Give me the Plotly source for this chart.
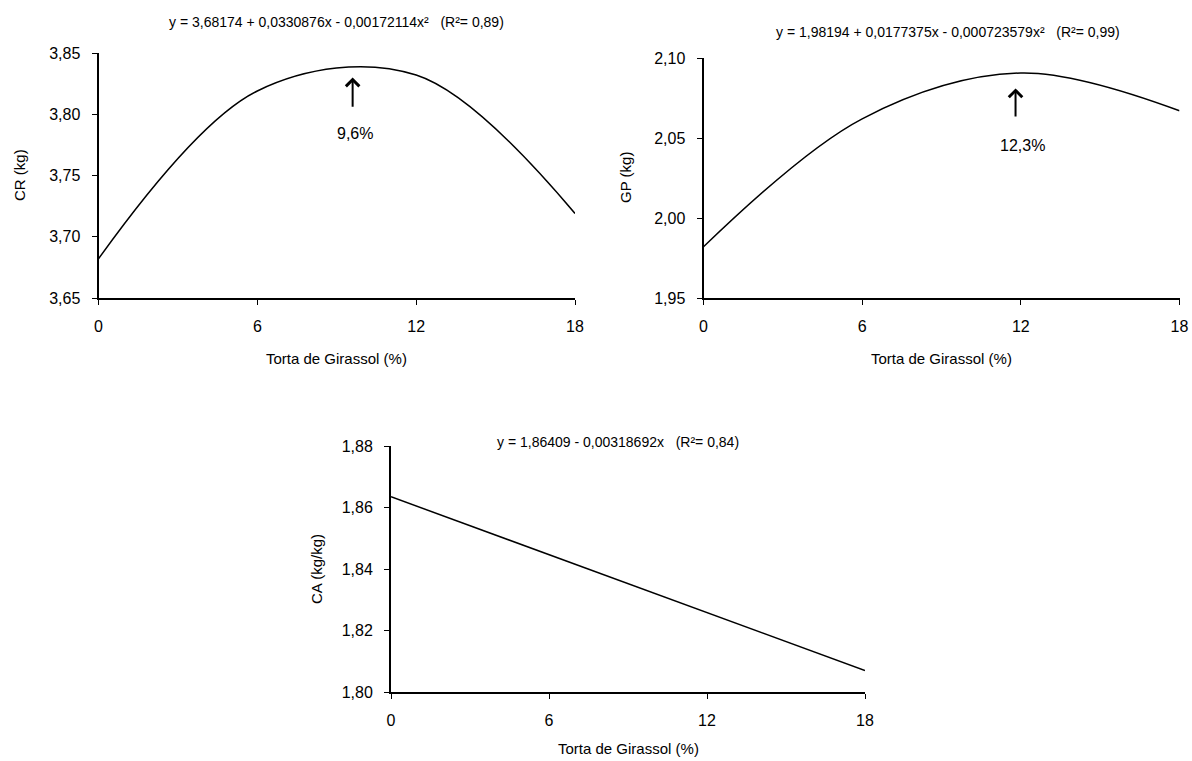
import plotly.graph_objects as go

# ---------------- data ----------------
torta_cr = [0, 6, 12, 18]
cr_kg = [3.682, 3.819, 3.832, 3.719]

torta_gp = [0, 6, 12, 18]
gp_kg = [1.982, 2.062, 2.0906, 2.067]

torta_ca = [0, 18]
ca_kgkg = [1.8635, 1.807]

x_ticks = [0, 6, 12, 18]
x_tick_labels = ["0", "6", "12", "18"]
cr_ticks = [3.65, 3.70, 3.75, 3.80, 3.85]
cr_tick_labels = ["3,65", "3,70", "3,75", "3,80", "3,85"]
gp_ticks = [1.95, 2.00, 2.05, 2.10]
gp_tick_labels = ["1,95", "2,00", "2,05", "2,10"]
ca_ticks = [1.80, 1.82, 1.84, 1.86, 1.88]
ca_tick_labels = ["1,80", "1,82", "1,84", "1,86", "1,88"]

eq_cr = "y = 3,68174 + 0,0330876x - 0,00172114x²   (R²= 0,89)"
eq_gp = "y = 1,98194 + 0,0177375x - 0,000723579x²   (R²= 0,99)"
eq_ca = "y = 1,86409 - 0,00318692x   (R²= 0,84)"
x_title = "Torta de Girassol (%)"

W, H = 1192, 761
FONT = "Liberation Sans Narrow, Liberation Sans, Arial, sans-serif"


def px(x):
    return x / W


def py(y):
    return 1 - y / H


fig = go.Figure()
line = dict(color="black", width=1.5)
fig.add_trace(go.Scatter(x=torta_cr, y=cr_kg, mode="lines",
                         line=dict(shape="spline", smoothing=1.0, **line),
                         xaxis="x", yaxis="y", showlegend=False, hoverinfo="skip"))
fig.add_trace(go.Scatter(x=torta_gp, y=gp_kg, mode="lines",
                         line=dict(shape="spline", smoothing=1.0, **line),
                         xaxis="x2", yaxis="y2", showlegend=False, hoverinfo="skip"))
fig.add_trace(go.Scatter(x=torta_ca, y=ca_kgkg, mode="lines", line=line,
                         xaxis="x3", yaxis="y3", showlegend=False, hoverinfo="skip"))

tickfont = dict(family=FONT, size=16, color="black")


def xax(domain, anchor):
    return dict(domain=domain, anchor=anchor, range=[0, 18], tickvals=x_ticks, ticktext=x_tick_labels,
                showline=True, linecolor="black", linewidth=2, ticks="outside", ticklen=5,
                tickwidth=1, tickcolor="black", showgrid=False, zeroline=False, tickfont=tickfont,
                ticklabelstandoff=8, automargin=False, fixedrange=True)


def yax(domain, anchor, rng, vals, labels):
    return dict(domain=domain, anchor=anchor, range=rng, tickvals=vals, ticktext=labels,
                showline=True, linecolor="black", linewidth=2, ticks="outside", ticklen=5,
                tickwidth=1, tickcolor="black", showgrid=False, zeroline=False, tickfont=tickfont,
                ticklabelstandoff=8, automargin=False, fixedrange=True)


fig.update_layout(
    width=W, height=H, margin=dict(l=0, r=0, t=0, b=0, autoexpand=False),
    paper_bgcolor="white", plot_bgcolor="white",
    font=dict(family=FONT, color="black"),
    xaxis=xax([px(98.5), px(575)], "y"),
    yaxis=yax([py(298), py(53)], "x", [3.65, 3.85], cr_ticks, cr_tick_labels),
    xaxis2=xax([px(703.5), px(1179.5)], "y2"),
    yaxis2=yax([py(298), py(58)], "x2", [1.95, 2.10], gp_ticks, gp_tick_labels),
    xaxis3=xax([px(391), px(865)], "y3"),
    yaxis3=yax([py(692), py(446)], "x3", [1.80, 1.88], ca_ticks, ca_tick_labels),
)

ann = []


def label(text, cx, cy, size, angle=0):
    ann.append(dict(text=text, x=px(cx), y=py(cy), xref="paper", yref="paper", showarrow=False,
                    xanchor="center", yanchor="middle", textangle=angle, font=dict(size=size)))


# equations
label(eq_cr, 336, 22, 14)
label(eq_gp, 948, 32, 14)
label(eq_ca, 618, 442, 14)
# x titles
for cx, cy in [(336, 358), (941, 358), (628, 748)]:
    label(x_title, cx, cy, 15)
# y titles
for t, cx, cy in [("CR (kg)", 20, 175), ("GP (kg)", 625, 178), ("CA (kg/kg)", 316, 569)]:
    label(t, cx, cy, 15, -90)

# arrows
ann.append(dict(x=9.6, y=3.830, ax=9.6, ay=3.805, xref="x", yref="y", axref="x", ayref="y",
                showarrow=True, arrowhead=4, arrowsize=1.3, arrowwidth=2, arrowcolor="black", text=""))
ann.append(dict(text="9,6%", x=9.7, y=3.784, xref="x", yref="y", showarrow=False,
                xanchor="center", yanchor="middle", font=dict(size=16)))
ann.append(dict(x=11.8, y=2.081, ax=11.8, ay=2.0625, xref="x2", yref="y2", axref="x2", ayref="y2",
                showarrow=True, arrowhead=4, arrowsize=1.3, arrowwidth=2, arrowcolor="black", text=""))
ann.append(dict(text="12,3%", x=12.05, y=2.045, xref="x2", yref="y2", showarrow=False,
                xanchor="center", yanchor="middle", font=dict(size=16)))

fig.update_layout(annotations=ann)
fig.write_html("out.html", config={"displayModeBar": False},
               post_script="document.body.style.margin='0';document.body.style.overflow='hidden';")
